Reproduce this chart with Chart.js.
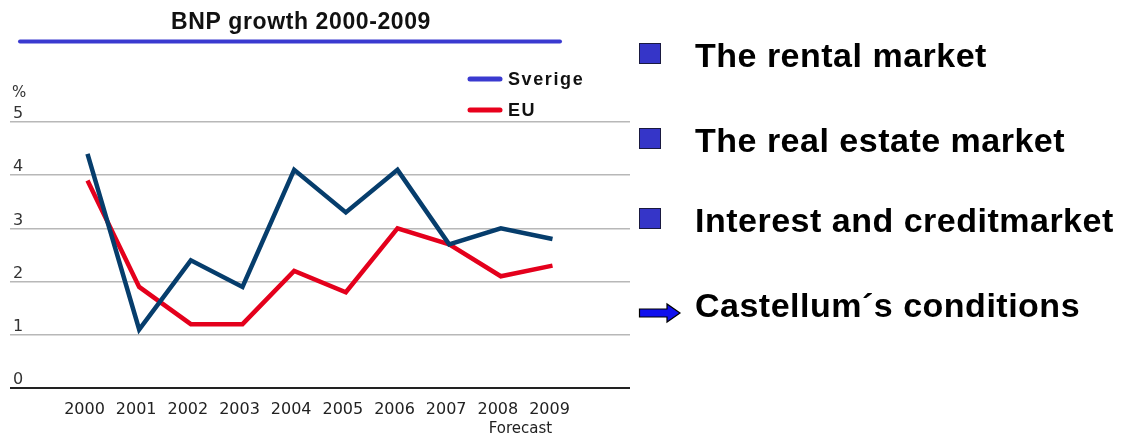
<!DOCTYPE html>
<html>
<head>
<meta charset="utf-8">
<script src="https://cdn.jsdelivr.net/npm/chart.js@4"></script>
<style>
  html, body { margin: 0; padding: 0; background: #fff; }
  #wrap { position: relative; width: 1121px; height: 439px; }
</style>
</head>
<body>
<div id="wrap"><canvas id="c" width="1121" height="439"></canvas></div>
<script>
const years = ['2000','2001','2002','2003','2004','2005','2006','2007','2008','2009'];
const sverige = [4.4, 1.1, 2.4, 1.9, 4.1, 3.3, 4.1, 2.7, 3.0, 2.8];
const eu = [3.9, 1.9, 1.2, 1.2, 2.2, 1.8, 3.0, 2.7, 2.1, 2.3];
const yTicks = [0, 1, 2, 3, 4, 5];
const titleText = 'BNP growth 2000-2009';
const seriesNames = ['Sverige', 'EU'];
const bullets = ['The rental market', 'The real estate market', 'Interest and creditmarket', 'Castellum\u00b4s conditions'];
const forecastText = 'Forecast';
const unitText = '%';

const decor = {
  id: 'decor',
  afterDraw(chart) {
    const ctx = chart.ctx;
    const xs = chart.scales.x;
    ctx.save();
    // title
    ctx.fillStyle = '#111';
    ctx.font = 'bold 23px "Liberation Sans", Arial, sans-serif';
    ctx.letterSpacing = '0.6px';
    ctx.textAlign = 'center';
    ctx.textBaseline = 'alphabetic';
    ctx.fillText(titleText, 301, 29);
    ctx.letterSpacing = '0px';
    // underline
    ctx.strokeStyle = '#3a3ad0';
    ctx.lineWidth = 4;
    ctx.lineCap = 'round';
    ctx.beginPath(); ctx.moveTo(20, 41.5); ctx.lineTo(560, 41.5); ctx.stroke();
    // legend
    const legY = [79, 110];
    const legC = ['#3a3ad0', '#e8001c'];
    ctx.font = 'bold 18px "Liberation Sans", Arial, sans-serif';
    ctx.letterSpacing = '1.6px';
    ctx.textAlign = 'left';
    ctx.textBaseline = 'middle';
    seriesNames.forEach((n, i) => {
      ctx.strokeStyle = legC[i];
      ctx.lineWidth = 5;
      ctx.beginPath(); ctx.moveTo(470, legY[i]); ctx.lineTo(500, legY[i]); ctx.stroke();
      ctx.fillStyle = '#111';
      ctx.fillText(n, 508, legY[i] + 1);
    });
    ctx.letterSpacing = '0px';
    // unit
    ctx.font = '15px "DejaVu Sans", sans-serif';
    ctx.fillStyle = '#333';
    ctx.fillText(unitText, 12, 93);
    // forecast
    ctx.textAlign = 'center';
    ctx.font = '15px "DejaVu Sans", sans-serif';
    ctx.fillStyle = '#222';
    ctx.fillText(forecastText, xs.getPixelForValue(years.length - 1) - 32, 429);
    // right bullets
    const base = [67, 152, 232, 317];
    ctx.textAlign = 'left';
    ctx.textBaseline = 'alphabetic';
    ctx.font = 'bold 34px "Liberation Sans", Arial, sans-serif';
    ctx.letterSpacing = '0.5px';
    bullets.forEach((b, i) => {
      ctx.fillStyle = '#000';
      ctx.fillText(b, 695, base[i]);
      if (i < 3) {
        const top = base[i] - 24;
        ctx.fillStyle = '#3535c8';
        ctx.fillRect(639.5, top + 0.5, 21, 20);
        ctx.strokeStyle = '#1a1a40';
        ctx.lineWidth = 1;
        ctx.strokeRect(639.5, top + 0.5, 21, 20);
      } else {
        const cy = base[i] - 4;
        ctx.fillStyle = '#1010ee';
        ctx.strokeStyle = '#000';
        ctx.lineWidth = 1.2;
        ctx.beginPath();
        ctx.moveTo(639.5, cy - 4);
        ctx.lineTo(667, cy - 4);
        ctx.lineTo(667, cy - 9);
        ctx.lineTo(680, cy);
        ctx.lineTo(667, cy + 9);
        ctx.lineTo(667, cy + 4);
        ctx.lineTo(639.5, cy + 4);
        ctx.closePath();
        ctx.fill(); ctx.stroke();
      }
    });
    ctx.letterSpacing = '0px';
    ctx.restore();
  }
};

new Chart(document.getElementById('c'), {
  type: 'line',
  data: {
    datasets: [
      { label: seriesNames[0], data: sverige.map((v, i) => ({x: i, y: v})), borderColor: '#063d6c', borderWidth: 4.5, pointRadius: 0, tension: 0, borderJoinStyle: 'miter' },
      { label: seriesNames[1], data: eu.map((v, i) => ({x: i, y: v})), borderColor: '#e4001c', borderWidth: 4.5, pointRadius: 0, tension: 0, borderJoinStyle: 'miter' }
    ]
  },
  options: {
    responsive: false,
    animation: false,
    layout: { padding: { left: 10, right: 491, top: 122, bottom: 0 } },
    plugins: { legend: { display: false }, title: { display: false }, tooltip: { enabled: false } },
    scales: {
      x: {
        type: 'linear', min: -1.5, max: 10.5,
        afterBuildTicks: s => { s.ticks = years.map((y, i) => ({ value: i })); },
        afterFit: s => { s.height = 51; },
        grid: { display: false }, border: { display: false },
        ticks: { autoSkip: false, maxRotation: 0, padding: 4, labelOffset: -3, color: '#222',
          font: { family: '"DejaVu Sans", sans-serif', size: 16 },
          callback: v => years[v] }
      },
      y: {
        min: 0, max: 5,
        afterBuildTicks: s => { s.ticks = yTicks.map(v => ({ value: v })); },
        afterFit: s => { s.width = 0; },
        border: { display: false },
        grid: { drawTicks: false,
          color: c => c.tick.value === 0 ? '#222' : '#b8b8b8',
          lineWidth: c => c.tick.value === 0 ? 2 : 1.5 },
        ticks: { mirror: true, padding: 3, labelOffset: -8, color: '#333',
          font: { family: '"DejaVu Sans", sans-serif', size: 16 } }
      }
    }
  },
  plugins: [decor]
});
</script>
</body>
</html>
